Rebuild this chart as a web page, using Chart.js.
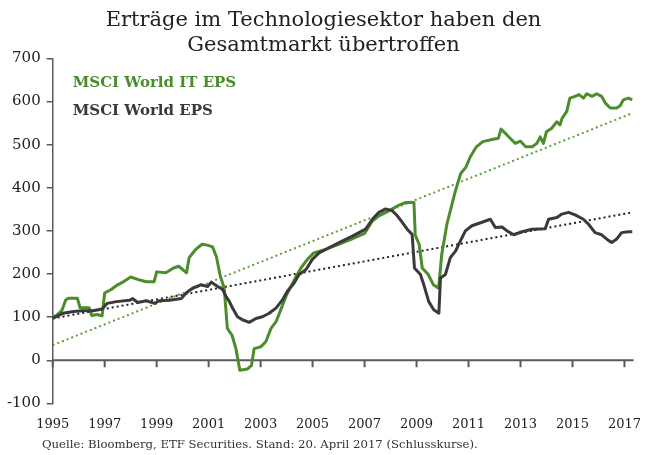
<!DOCTYPE html>
<html lang="de">
<head>
<meta charset="utf-8">
<title>Erträge im Technologiesektor</title>
<script src="https://cdn.jsdelivr.net/npm/chart.js@4/dist/chart.umd.min.js"></script>
<style>
    html, body { margin: 0; padding: 0; background: #fff; }
    #wrap { position: relative; width: 646px; height: 455px; }
    #quelle {
        position: absolute; left: 42px; top: 437px;
        font: 11.7px "DejaVu Serif", serif; color: #333; white-space: nowrap;
    }
</style>
</head>
<body>
<div id="wrap">
    <canvas id="epsChart" width="646" height="455"></canvas>
    <div id="quelle">Quelle: Bloomberg, ETF Securities. Stand: 20. April 2017 (Schlusskurse).</div>
</div>
<script>
// Daten
const itDates = [1995.0, 1995.15, 1995.35, 1995.5, 1995.6, 1995.95, 1996.05, 1996.4, 1996.5, 1996.7, 1996.9,
    1997.0, 1997.25, 1997.5, 1997.75, 1998.0, 1998.3, 1998.6, 1998.9, 1999.0, 1999.35, 1999.65, 1999.85,
    2000.05, 2000.15, 2000.25, 2000.5, 2000.75, 2000.95, 2001.15, 2001.3, 2001.45, 2001.6, 2001.72, 2001.9,
    2002.05, 2002.2, 2002.5, 2002.65, 2002.75, 2003.0, 2003.2, 2003.4, 2003.6, 2003.8, 2004.0, 2004.3,
    2004.55, 2004.8, 2005.05, 2005.5, 2006.0, 2006.5, 2007.0, 2007.3, 2007.55, 2007.95, 2008.3, 2008.6,
    2008.9, 2008.95, 2009.1, 2009.22, 2009.45, 2009.65, 2009.85, 2009.97, 2010.17, 2010.37, 2010.5, 2010.7,
    2010.9, 2011.07, 2011.3, 2011.55, 2011.9, 2012.15, 2012.25, 2012.42, 2012.6, 2012.8, 2013.0, 2013.2,
    2013.45, 2013.63, 2013.76, 2013.88, 2014.0, 2014.2, 2014.4, 2014.52, 2014.6, 2014.78, 2014.9, 2015.1,
    2015.25, 2015.42, 2015.55, 2015.75, 2015.93, 2016.12, 2016.27, 2016.45, 2016.7, 2016.83, 2016.96,
    2017.15, 2017.3];
const itEps = [100, 104, 115, 140, 144, 144, 122, 122, 104, 106, 103,
    156, 164, 175, 183, 193, 187, 182, 182, 205, 203, 214, 218,
    208, 203, 238, 257, 269, 267, 263, 240, 195, 167, 74, 58,
    27, -23, -20, -12, 27, 31, 43, 74, 90, 121, 152, 187,
    214, 234, 249, 257, 269, 281, 294, 323, 335, 347, 359, 366,
    366, 290, 269, 214, 199, 175, 167, 246, 316, 363, 394, 433,
    448, 472, 495, 507, 512, 515, 536, 526, 515, 503, 508, 495,
    495, 503, 518, 503, 530, 538, 553, 546, 561, 577, 608, 612,
    616, 608, 618, 612, 618, 612, 596, 585, 585, 590, 604,
    608, 604];

const worldDates = [1995.0, 1995.4, 1995.8, 1996.15, 1996.55, 1996.9, 1997.1, 1997.45, 1997.95, 1998.08,
    1998.27, 1998.6, 1998.92, 1999.1, 1999.5, 1999.95, 2000.13, 2000.38, 2000.7, 2000.96, 2001.1,
    2001.35, 2001.54, 2001.67, 2001.8, 2001.92, 2002.11, 2002.3, 2002.56, 2002.82, 2003.07, 2003.33,
    2003.59, 2003.84, 2004.03, 2004.29, 2004.48, 2004.74, 2004.99, 2005.25, 2005.63, 2006.02, 2006.53,
    2006.91, 2007.04, 2007.3, 2007.55, 2007.81, 2008.06, 2008.26, 2008.45, 2008.64, 2008.83, 2008.92,
    2009.15, 2009.28, 2009.47, 2009.66, 2009.86, 2009.92, 2010.11, 2010.3, 2010.5, 2010.69, 2010.88,
    2011.13, 2011.52, 2011.84, 2012.03, 2012.29, 2012.48, 2012.74, 2013.06, 2013.44, 2013.95, 2014.08,
    2014.4, 2014.59, 2014.85, 2015.1, 2015.42, 2015.61, 2015.87, 2016.12, 2016.38, 2016.51, 2016.7,
    2016.89, 2017.15, 2017.3];
const worldEps = [97, 109, 113, 115, 115, 119, 132, 136, 139, 143,
    134, 138, 132, 138, 139, 143, 156, 167, 175, 171, 181,
    171, 164, 148, 136, 121, 101, 94, 88, 97, 101, 109,
    121, 140, 160, 179, 199, 210, 234, 249, 261, 273, 288,
    300, 304, 327, 343, 351, 347, 335, 320, 304, 292, 214,
    199, 175, 136, 117, 109, 191, 199, 238, 253, 277, 300,
    312, 320, 327, 308, 309, 300, 291, 298, 304, 305, 327,
    331, 339, 343, 337, 327, 316, 296, 291, 278, 273, 281,
    296, 298, 298];

// Trendlinien (Anfangs- und Endwert)
const trendDates = [1995.0, 2017.3];
const itTrend = [35, 573];
const worldTrend = [97, 343];

const yearTicks = [1995, 1997, 1999, 2001, 2003, 2005, 2007, 2009, 2011, 2013, 2015, 2017];

const GREEN = '#4b8c2b';
const GREY = '#3b3939';

function toPoints(xs, ys) {
    return xs.map(function(x, i) { return { x: x, y: ys[i] }; });
}

// Nulllinie mit Jahresmarken
const zeroAxis = {
    id: 'zeroAxis',
    beforeDatasetsDraw(chart) {
        const ctx = chart.ctx;
        const xs = chart.scales.x;
        const y0 = chart.scales.y.getPixelForValue(0);
        ctx.save();
        ctx.strokeStyle = '#5a5a5a';
        ctx.lineWidth = 2;
        ctx.beginPath();
        ctx.moveTo(chart.chartArea.left, y0);
        ctx.lineTo(chart.chartArea.right, y0);
        xs.ticks.forEach(function(t) {
            const px = xs.getPixelForValue(t.value);
            ctx.moveTo(px, y0);
            ctx.lineTo(px, y0 + 7);
        });
        ctx.stroke();
        ctx.restore();
    }
};

// Beschriftung der Reihen im Diagramm
const seriesLabels = {
    id: 'seriesLabels',
    afterDraw(chart) {
        const ctx = chart.ctx;
        const area = chart.chartArea;
        ctx.save();
        ctx.font = 'bold 15px "DejaVu Serif", serif';
        ctx.textBaseline = 'middle';
        chart.data.datasets.slice(0, 2).forEach(function(ds, i) {
            ctx.fillStyle = ds.borderColor;
            ctx.fillText(ds.label, area.left + 20, area.top + 25 + i * 28);
        });
        ctx.restore();
    }
};

document.addEventListener('DOMContentLoaded', function() {
    const ctx = document.getElementById('epsChart').getContext('2d');
    new Chart(ctx, {
        type: 'line',
        data: {
            datasets: [{
                label: 'MSCI World IT EPS',
                data: toPoints(itDates, itEps),
                borderColor: GREEN,
                borderWidth: 3,
                borderJoinStyle: 'round',
                pointRadius: 0,
                order: 2
            }, {
                label: 'MSCI World EPS',
                data: toPoints(worldDates, worldEps),
                borderColor: GREY,
                borderWidth: 3,
                borderJoinStyle: 'round',
                pointRadius: 0,
                order: 1
            }, {
                label: 'Trend IT',
                data: toPoints(trendDates, itTrend),
                borderColor: '#5f9e3f',
                borderWidth: 2,
                borderDash: [2, 3],
                pointRadius: 0,
                order: 3
            }, {
                label: 'Trend Welt',
                data: toPoints(trendDates, worldTrend),
                borderColor: '#222',
                borderWidth: 2,
                borderDash: [2, 3],
                pointRadius: 0,
                order: 4
            }]
        },
        options: {
            responsive: false,
            animation: false,
            layout: {
                padding: { left: 1, right: 0, top: 0, bottom: 18 }
            },
            scales: {
                x: {
                    type: 'linear',
                    min: 1995,
                    max: 2017.35,
                    afterBuildTicks: function(scale) {
                        scale.ticks = yearTicks.map(function(v) { return { value: v }; });
                    },
                    grid: { display: false },
                    border: { display: false },
                    ticks: {
                        autoSkip: false,
                        maxRotation: 0,
                        padding: 5,
                        color: '#222',
                        font: { family: '"DejaVu Serif", serif', size: 13 },
                        callback: function(value) { return String(value); }
                    }
                },
                y: {
                    min: -100,
                    max: 700,
                    ticks: {
                        stepSize: 100,
                        padding: 6,
                        color: '#222',
                        font: { family: '"DejaVu Serif", serif', size: 15 }
                    },
                    grid: {
                        drawOnChartArea: false,
                        drawTicks: true,
                        tickLength: 6,
                        color: '#5a5a5a',
                        lineWidth: 1.5
                    },
                    border: { display: true, color: '#5a5a5a', width: 1.5 }
                }
            },
            plugins: {
                legend: { display: false },
                tooltip: { enabled: false },
                title: {
                    display: true,
                    text: ['Erträge im Technologiesektor haben den', 'Gesamtmarkt übertroffen'],
                    color: '#222',
                    font: { family: '"DejaVu Serif", serif', size: 21, weight: 'normal', lineHeight: 1.2 },
                    padding: { top: 8, bottom: 0 }
                }
            }
        },
        plugins: [zeroAxis, seriesLabels]
    });
});
</script>
</body>
</html>
